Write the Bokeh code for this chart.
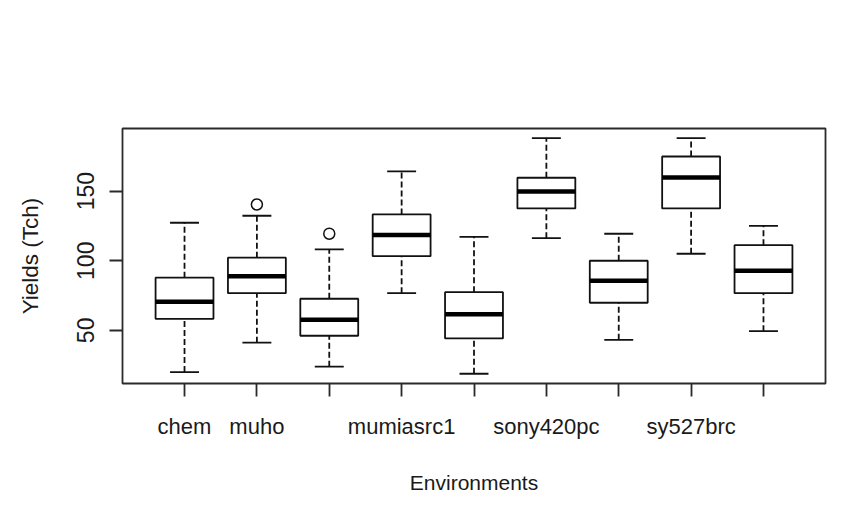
from bokeh.plotting import figure
from bokeh.models import ColumnDataSource, FixedTicker, Range1d
from bokeh.embed import file_html
from bokeh.resources import INLINE

# ---- data ----
labels = ["chem", "muho", "", "mumiasrc1", "", "sony420pc", "", "sy527brc", ""]
lower = [20.0, 41.1, 23.9, 76.7, 18.8, 116.2, 43.2, 105.0, 49.4]
q1 = [58.3, 76.7, 46.1, 103.3, 44.2, 137.6, 69.8, 137.6, 76.7]
median = [70.5, 88.9, 57.6, 118.4, 61.6, 149.8, 85.6, 159.8, 92.8]
q3 = [87.8, 102.2, 72.7, 133.3, 77.4, 159.6, 100.0, 174.9, 111.2]
upper = [127.3, 132.3, 108.1, 164.2, 117.2, 188.1, 119.4, 188.1, 125.1]
outlier_group = [2, 3]
outlier_value = [140.4, 119.4]
y_ticks = [50, 100, 150]

FONT = "Liberation Sans"
pos = list(range(1, len(labels) + 1))
half_box = 0.4
half_cap = 0.2

src = ColumnDataSource(dict(
    x=pos,
    left=[p - half_box for p in pos],
    right=[p + half_box for p in pos],
    cl=[p - half_cap for p in pos],
    cr=[p + half_cap for p in pos],
    lower=lower, q1=q1, median=median, q3=q3, upper=upper,
))
out_src = ColumnDataSource(dict(x=outlier_group, y=outlier_value))

p = figure(width=868, height=514, output_backend="svg", toolbar_location=None,
           x_range=Range1d(0.143, 9.857), y_range=Range1d(11.8, 195.0),
           min_border_left=122, min_border_right=43,
           min_border_top=128, min_border_bottom=131)
p.background_fill_color = "white"
p.border_fill_color = "white"
p.grid.visible = False
p.outline_line_color = "#2a2a2a"
p.outline_line_width = 1.8

# whiskers (dashed)
p.segment(x0="x", y0="q3", x1="x", y1="upper", source=src,
          line_color="#111111", line_width=1.8, line_dash="6 3")
p.segment(x0="x", y0="lower", x1="x", y1="q1", source=src,
          line_color="#111111", line_width=1.8, line_dash="6 3")
# caps
p.segment(x0="cl", y0="upper", x1="cr", y1="upper", source=src,
          line_color="#111111", line_width=1.8)
p.segment(x0="cl", y0="lower", x1="cr", y1="lower", source=src,
          line_color="#111111", line_width=1.8)
# boxes
p.quad(left="left", right="right", bottom="q1", top="q3", source=src,
       fill_color="white", line_color="#111111", line_width=1.8)
# medians
p.segment(x0="left", y0="median", x1="right", y1="median", source=src,
          line_color="black", line_width=4.5)
# outliers
p.scatter(x="x", y="y", source=out_src, size=11, marker="circle",
          fill_color=None, line_color="#111111", line_width=1.5)

# axes
xa = p.xaxis[0]
xa.ticker = FixedTicker(ticks=pos)
xa.major_label_overrides = {p_: l for p_, l in zip(pos, labels)}
ya = p.yaxis[0]
ya.ticker = FixedTicker(ticks=y_ticks)
ya.major_label_orientation = "vertical"

for ax in (xa, ya):
    ax.axis_line_color = None
    ax.major_tick_line_color = "#2a2a2a"
    ax.major_tick_line_width = 1.8
    ax.major_tick_in = 0
    ax.major_tick_out = 13
    ax.minor_tick_line_color = None
    ax.major_label_text_font = FONT
    ax.major_label_text_color = "#1a1a1a"
    ax.axis_label_text_font = FONT
    ax.axis_label_text_font_style = "normal"
    ax.axis_label_text_color = "#1a1a1a"

xa.major_label_text_font_size = "22px"
xa.axis_label_text_font_size = "21px"
ya.major_label_text_font_size = "23px"
ya.axis_label_text_font_size = "22.5px"

xa.axis_label = "Environments"
ya.axis_label = "Yields (Tch)"
xa.major_label_standoff = 17
ya.major_label_standoff = 15
xa.axis_label_standoff = 29
ya.axis_label_standoff = 32

open("out.html", "w").write(file_html(p, INLINE))
